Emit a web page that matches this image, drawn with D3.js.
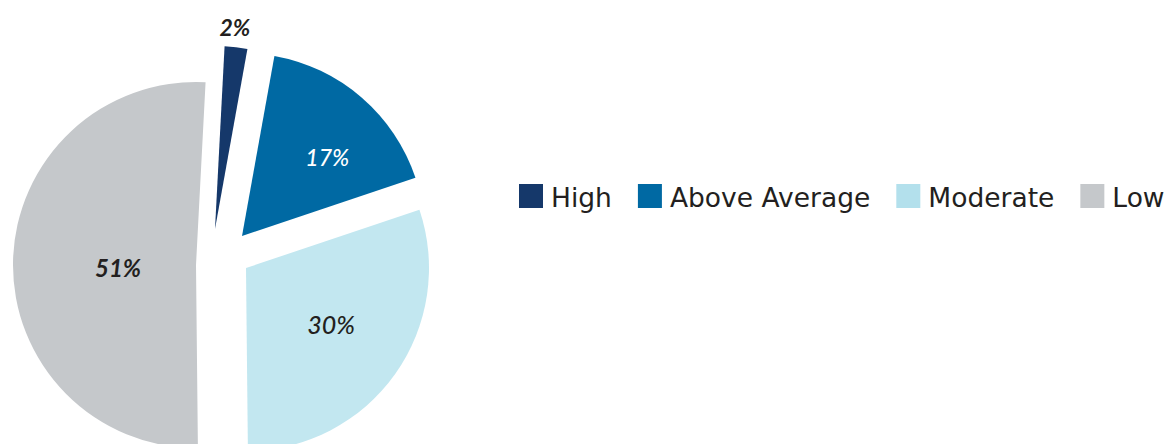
<!DOCTYPE html>
<html><head><meta charset="utf-8">
<script src="https://cdn.jsdelivr.net/npm/d3@7"></script>
<style>
html,body{margin:0;padding:0;background:#fff;}
svg{display:block;}
</style></head>
<body>
<svg id="chart" width="1167" height="444"></svg>
<script>
// ---- data ----
const categories = ["High", "Above Average", "Moderate", "Low"];
const values = [2, 17, 30, 51];
const labels = ["2%", "17%", "30%", "51%"];

// ---- styling / layout config ----
const colors = ["#15386a", "#0069a3", "#c2e7f0", "#c5c8cb"];
const legendColors = ["#15386a", "#0069a3", "#b3e0ec", "#c5c8cb"];
const labelColors = ["#231f20", "#ffffff", "#231f20", "#231f20"];
const labelWeights = ["700", "500", "500", "700"];
const labelSizes = [23, 23, 25, 24];
const radius = 183;
const center = [196, 265];
// per-slice explosion offsets (px) relative to the pie centre
const explode = [[19, -36], [46, -29], [50, 3], [0, 0]];
// label placement: distance from slice apex and angular nudge (deg)
const labelPlace = [[203, -1], [116, 6.5], [102, -2], [78, -3]];
const startDeg = 3;

const svg = d3.select("#chart");

const pie = d3.pie().sort(null).value(d => d)
  .startAngle(startDeg * Math.PI / 180)
  .endAngle((startDeg + 360) * Math.PI / 180);
const arcs = pie(values);
const arc = d3.arc().innerRadius(0).outerRadius(radius);

const g = svg.append("g").attr("transform", `translate(${center[0]},${center[1]})`);

const slices = g.selectAll("g.slice").data(arcs).enter().append("g")
  .attr("class", "slice")
  .attr("transform", (d, i) => `translate(${explode[i][0]},${explode[i][1]})`);

slices.append("path")
  .attr("d", arc)
  .attr("fill", (d, i) => colors[i]);

slices.append("text")
  .attr("transform", (d, i) => {
    const a = (d.startAngle + d.endAngle) / 2 + labelPlace[i][1] * Math.PI / 180;
    const r = labelPlace[i][0];
    return `translate(${r * Math.sin(a)},${-r * Math.cos(a)})`;
  })
  .attr("text-anchor", "middle")
  .attr("dominant-baseline", "central")
  .attr("font-family", "Lato, 'Open Sans', sans-serif")
  .attr("font-style", "italic")
  .attr("font-weight", (d, i) => labelWeights[i])
  .attr("font-size", (d, i) => labelSizes[i])
  .attr("fill", (d, i) => labelColors[i])
  .text((d, i) => labels[i]);

// ---- legend ----
const legend = svg.append("g").attr("transform", "translate(519,196)");
let x = 0;
categories.forEach((c, i) => {
  const item = legend.append("g").attr("transform", `translate(${x},0)`);
  item.append("rect").attr("x", 0).attr("y", -12).attr("width", 24).attr("height", 24)
    .attr("fill", legendColors[i]);
  const t = item.append("text").attr("x", 32).attr("y", 1)
    .attr("dominant-baseline", "central")
    .attr("font-family", "'DejaVu Sans', sans-serif")
    .attr("font-size", 26.5)
    .attr("fill", "#231f20")
    .text(c);
  x += 32 + t.node().getComputedTextLength() + 26;
});
</script>
</body></html>
